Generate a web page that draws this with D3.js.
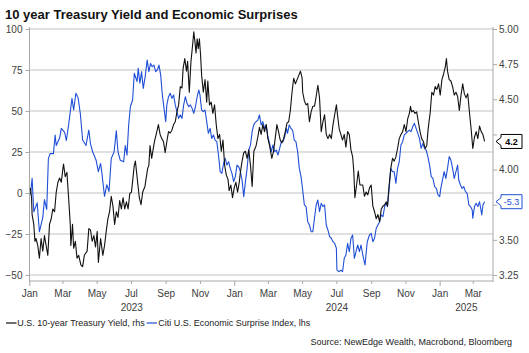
<!DOCTYPE html>
<html><head><meta charset="utf-8">
<script src="https://cdn.jsdelivr.net/npm/d3@7"></script>
<style>body{margin:0;background:#fff}svg{display:block;font-family:"Liberation Sans",Arial,sans-serif}</style>
</head><body><svg id="c" width="529" height="353"></svg>
<script>
// U.S. 10-year Treasury Yield (rhs)
const yieldData = [
["2023-01-03",3.87],["2023-01-05",3.80],["2023-01-06",3.68],["2023-01-09",3.61],["2023-01-11",3.49],["2023-01-13",3.51],["2023-01-16",3.46],["2023-01-19",3.37],["2023-01-22",3.51],["2023-01-25",3.42],["2023-01-28",3.53],["2023-01-31",3.46],
["2023-02-03",3.39],["2023-02-06",3.61],["2023-02-09",3.65],["2023-02-12",3.72],["2023-02-15",3.70],["2023-02-18",3.84],["2023-02-21",3.91],["2023-02-24",3.94],["2023-02-27",3.91],
["2023-03-02",4.01],["2023-03-03",4.04],["2023-03-06",3.95],["2023-03-09",3.98],["2023-03-12",3.80],["2023-03-15",3.61],["2023-03-16",3.46],["2023-03-19",3.61],["2023-03-21",3.44],["2023-03-24",3.49],["2023-03-27",3.37],["2023-03-30",3.39],
["2023-04-03",3.32],["2023-04-06",3.31],["2023-04-09",3.39],["2023-04-14",3.42],["2023-04-17",3.58],["2023-04-20",3.57],["2023-04-23",3.49],["2023-04-26",3.53],["2023-04-29",3.45],
["2023-05-02",3.56],["2023-05-04",3.34],["2023-05-08",3.51],["2023-05-12",3.39],["2023-05-15",3.46],["2023-05-18",3.56],["2023-05-21",3.65],["2023-05-24",3.70],["2023-05-27",3.81],["2023-05-30",3.74],
["2023-06-02",3.61],["2023-06-05",3.70],["2023-06-08",3.66],["2023-06-11",3.78],["2023-06-14",3.72],["2023-06-17",3.80],["2023-06-20",3.72],["2023-06-23",3.77],["2023-06-26",3.72],["2023-06-29",3.83],
["2023-07-02",3.84],["2023-07-07",4.03],["2023-07-09",4.06],["2023-07-13",3.91],["2023-07-16",3.80],["2023-07-19",3.75],["2023-07-22",3.84],["2023-07-26",3.88],["2023-07-29",3.96],["2023-07-31",4.01],
["2023-08-02",4.03],["2023-08-04",4.17],["2023-08-07",4.08],["2023-08-09",4.13],["2023-08-12",4.20],["2023-08-15",4.25],["2023-08-19",4.32],["2023-08-22",4.25],["2023-08-25",4.22],["2023-08-28",4.20],["2023-08-31",4.12],
["2023-09-03",4.20],["2023-09-06",4.27],["2023-09-09",4.26],["2023-09-12",4.28],["2023-09-15",4.32],["2023-09-18",4.34],["2023-09-21",4.41],["2023-09-24",4.46],["2023-09-27",4.59],["2023-09-30",4.58],
["2023-10-02",4.72],["2023-10-05",4.79],["2023-10-08",4.70],["2023-10-10",4.77],["2023-10-13",4.55],["2023-10-16",4.77],["2023-10-19",4.89],["2023-10-21",4.98],["2023-10-23",4.91],["2023-10-25",4.83],["2023-10-27",4.93],["2023-10-29",4.86],["2023-10-31",4.93],
["2023-11-02",4.82],["2023-11-04",4.67],["2023-11-07",4.55],["2023-11-10",4.64],["2023-11-13",4.48],["2023-11-15",4.63],["2023-11-18",4.46],["2023-11-21",4.48],["2023-11-24",4.40],["2023-11-27",4.46],["2023-11-30",4.32],
["2023-12-03",4.22],["2023-12-06",4.25],["2023-12-09",4.13],["2023-12-12",4.21],["2023-12-15",4.03],["2023-12-18",3.96],["2023-12-21",3.93],["2023-12-23",3.85],["2023-12-26",3.89],["2023-12-29",3.80],
["2024-01-01",3.87],["2024-01-04",3.91],["2024-01-07",3.84],["2024-01-10",3.91],["2024-01-12",3.98],["2024-01-15",4.06],["2024-01-18",4.12],["2024-01-21",4.13],["2024-01-24",4.08],["2024-01-27",4.14],["2024-01-30",4.03],
["2024-02-02",3.88],["2024-02-05",4.13],["2024-02-09",4.17],["2024-02-12",4.23],["2024-02-15",4.30],["2024-02-18",4.25],["2024-02-21",4.32],["2024-02-24",4.27],["2024-02-27",4.32],
["2024-03-01",4.22],["2024-03-04",4.17],["2024-03-08",4.08],["2024-03-11",4.13],["2024-03-14",4.22],["2024-03-17",4.32],["2024-03-20",4.27],["2024-03-23",4.21],["2024-03-26",4.19],["2024-03-29",4.22],
["2024-04-01",4.27],["2024-04-04",4.33],["2024-04-07",4.34],["2024-04-10",4.42],["2024-04-13",4.55],["2024-04-16",4.65],["2024-04-19",4.61],["2024-04-22",4.64],["2024-04-25",4.67],["2024-04-28",4.70],
["2024-05-01",4.65],["2024-05-02",4.55],["2024-05-05",4.49],["2024-05-08",4.46],["2024-05-11",4.47],["2024-05-14",4.34],["2024-05-17",4.41],["2024-05-20",4.45],["2024-05-23",4.45],["2024-05-26",4.52],["2024-05-29",4.60],
["2024-06-01",4.51],["2024-06-04",4.27],["2024-06-07",4.34],["2024-06-10",4.39],["2024-06-13",4.25],["2024-06-16",4.22],["2024-06-19",4.25],["2024-06-22",4.22],["2024-06-25",4.32],["2024-06-28",4.39],
["2024-07-01",4.46],["2024-07-03",4.39],["2024-07-06",4.29],["2024-07-09",4.25],["2024-07-12",4.21],["2024-07-15",4.25],["2024-07-18",4.16],["2024-07-21",4.27],["2024-07-24",4.25],["2024-07-27",4.14],["2024-07-30",4.09],
["2024-08-01",3.99],["2024-08-03",3.80],["2024-08-06",3.89],["2024-08-09",3.99],["2024-08-12",3.89],["2024-08-17",3.89],["2024-08-20",3.81],["2024-08-23",3.84],["2024-08-26",3.82],["2024-08-29",3.87],
["2024-09-01",3.89],["2024-09-04",3.74],["2024-09-07",3.70],["2024-09-10",3.65],["2024-09-13",3.68],["2024-09-16",3.63],["2024-09-19",3.72],["2024-09-22",3.74],["2024-09-25",3.75],["2024-09-28",3.77],["2024-09-30",3.74],
["2024-10-03",3.89],["2024-10-06",4.01],["2024-10-09",4.08],["2024-10-12",4.06],["2024-10-15",4.09],["2024-10-18",4.15],["2024-10-21",4.22],["2024-10-24",4.25],["2024-10-27",4.27],["2024-10-30",4.32],
["2024-11-02",4.27],["2024-11-05",4.36],["2024-11-08",4.40],["2024-11-10",4.45],["2024-11-12",4.41],["2024-11-15",4.42],["2024-11-18",4.40],["2024-11-21",4.41],["2024-11-24",4.34],["2024-11-27",4.27],["2024-11-30",4.22],
["2024-12-03",4.20],["2024-12-06",4.15],["2024-12-09",4.17],["2024-12-11",4.27],["2024-12-13",4.34],["2024-12-15",4.40],["2024-12-18",4.55],["2024-12-21",4.53],["2024-12-24",4.59],["2024-12-27",4.57],["2024-12-30",4.61],
["2025-01-02",4.53],["2025-01-05",4.64],["2025-01-08",4.68],["2025-01-11",4.73],["2025-01-13",4.79],["2025-01-15",4.70],["2025-01-18",4.64],["2025-01-21",4.63],["2025-01-24",4.59],["2025-01-27",4.53],["2025-01-30",4.55],
["2025-02-02",4.52],["2025-02-05",4.42],["2025-02-08",4.53],["2025-02-11",4.61],["2025-02-14",4.54],["2025-02-17",4.51],["2025-02-20",4.54],["2025-02-23",4.41],["2025-02-26",4.29],
["2025-03-01",4.15],["2025-03-04",4.23],["2025-03-07",4.27],["2025-03-10",4.22],["2025-03-13",4.31],["2025-03-16",4.27],["2025-03-19",4.25],["2025-03-22",4.20]
];
// Citi U.S. Economic Surprise Index (lhs)
const cesiData = [
["2023-01-03",-1],["2023-01-06",9],["2023-01-09",-11.4],["2023-01-15",-6],["2023-01-19",-23.6],["2023-01-25",-15],["2023-01-28",-4],["2023-02-01",-10],["2023-02-04",21],["2023-02-07",24],["2023-02-13",24],["2023-02-16",35.4],["2023-02-18",29],["2023-02-24",33.5],["2023-02-27",39.4],
["2023-03-05",37],["2023-03-08",32],["2023-03-12",41.5],["2023-03-15",49.6],["2023-03-18",57.7],["2023-03-21",50.6],["2023-03-25",60.8],["2023-03-29",58],["2023-04-02",48],["2023-04-06",32.3],["2023-04-12",29],["2023-04-17",38.4],["2023-04-20",30],["2023-04-24",25],["2023-04-30",20],
["2023-05-04",13],["2023-05-08",18],["2023-05-10",13],["2023-05-15",-2],["2023-05-19",5],["2023-05-23",1],["2023-05-27",21],["2023-06-01",25],["2023-06-05",38],["2023-06-08",25],["2023-06-12",20],["2023-06-18",19],["2023-06-21",29],["2023-06-24",23],["2023-06-27",41.5],["2023-06-30",52.6],
["2023-07-04",56.7],["2023-07-07",73],["2023-07-12",68],["2023-07-14",76],["2023-07-17",66.9],["2023-07-20",74],["2023-07-23",63.8],["2023-07-26",70],["2023-07-30",81],["2023-08-02",74],["2023-08-05",79],["2023-08-08",77],["2023-08-11",78],["2023-08-14",74],["2023-08-17",75],["2023-08-20",78],["2023-08-23",72],["2023-08-26",59.8],["2023-08-29",51.6],
["2023-09-01",43.5],["2023-09-03",53.7],["2023-09-06",58.7],["2023-09-09",60.8],["2023-09-12",57.7],["2023-09-15",59.8],["2023-09-18",53.7],["2023-09-21",49.6],["2023-09-24",45.5],["2023-09-27",47.6],["2023-09-30",45.5],
["2023-10-03",53.7],["2023-10-06",58.7],["2023-10-09",54.7],["2023-10-12",52.6],["2023-10-15",53.7],["2023-10-18",51.6],["2023-10-21",48.6],["2023-10-24",52.6],["2023-10-27",58.7],["2023-10-30",62.8],
["2023-11-01",59.8],["2023-11-04",50.6],["2023-11-07",49.6],["2023-11-10",50.6],["2023-11-13",43.5],["2023-11-16",36.4],["2023-11-19",39.4],["2023-11-22",33.3],["2023-11-25",35.4],["2023-11-28",32.3],
["2023-12-01",31.3],["2023-12-04",23.2],["2023-12-07",13],["2023-12-10",12],["2023-12-13",18],["2023-12-16",21.1],["2023-12-19",17],["2023-12-22",19.1],["2023-12-25",15],["2023-12-28",12],["2023-12-31",6.9],
["2024-01-03",10],["2024-01-06",17],["2024-01-09",16],["2024-01-12",13],["2024-01-15",7.9],["2024-01-18",-2.2],["2024-01-21",6.9],["2024-01-24",15],["2024-01-27",26.2],["2024-01-30",29.3],
["2024-02-02",37.4],["2024-02-04",40.4],["2024-02-06",42.5],["2024-02-09",43.5],["2024-02-12",44.5],["2024-02-15",47.6],["2024-02-18",41.5],["2024-02-21",43.5],["2024-02-24",39.4],["2024-02-27",41.5],
["2024-03-01",34.3],["2024-03-04",30.3],["2024-03-07",25.2],["2024-03-10",29.3],["2024-03-13",25.2],["2024-03-16",26.2],["2024-03-19",23.2],["2024-03-22",27.2],["2024-03-25",31.3],["2024-03-28",31.3],["2024-03-31",34.3],
["2024-04-03",39.4],["2024-04-05",36.4],["2024-04-08",41.5],["2024-04-11",39.4],["2024-04-14",38.4],["2024-04-17",32.3],["2024-04-20",31.3],["2024-04-23",25.2],["2024-04-26",15],["2024-04-29",10],
["2024-05-02",1.8],["2024-05-05",-7.3],["2024-05-08",-8.3],["2024-05-11",-17.5],["2024-05-14",-19.5],["2024-05-17",-23.6],["2024-05-20",-23.6],["2024-05-23",-15.4],["2024-05-26",-7.3],["2024-05-29",-4.3],
["2024-06-01",-11.4],["2024-06-04",-6.3],["2024-06-07",-8.3],["2024-06-10",-7.3],["2024-06-13",-19.5],["2024-06-16",-22.6],["2024-06-19",-26.6],["2024-06-22",-27.6],["2024-06-25",-29.7],["2024-06-28",-30.7],
["2024-07-01",-33.7],["2024-07-02",-47],["2024-07-06",-48],["2024-07-09",-47],["2024-07-12",-48],["2024-07-15",-39.8],["2024-07-18",-37.8],["2024-07-21",-30.7],["2024-07-24",-35.8],["2024-07-27",-27.6],["2024-07-30",-25.6],
["2024-08-02",-39.8],["2024-08-05",-35.8],["2024-08-08",-31.7],["2024-08-11",-35.8],["2024-08-14",-31.7],["2024-08-17",-37.8],["2024-08-21",-43.9],["2024-08-25",-29.7],["2024-08-29",-25.6],
["2024-09-01",-24.6],["2024-09-04",-29.7],["2024-09-07",-27.6],["2024-09-10",-21.5],["2024-09-13",-19.5],["2024-09-16",-17.5],["2024-09-19",-13.4],["2024-09-22",-14.4],["2024-09-25",-8.3],["2024-09-28",-6.3],["2024-09-30",-8.3],
["2024-10-03",2.8],["2024-10-06",15],["2024-10-09",13],["2024-10-12",13],["2024-10-15",5.9],["2024-10-18",15],["2024-10-21",19.1],["2024-10-24",29.3],["2024-10-27",31.3],["2024-10-30",35.4],
["2024-11-02",36.4],["2024-11-05",37.4],["2024-11-08",38.4],["2024-11-11",37.4],["2024-11-14",40.4],["2024-11-17",42.5],["2024-11-20",39.4],["2024-11-23",36.4],["2024-11-26",33.3],["2024-11-29",27.2],
["2024-12-02",30.3],["2024-12-05",27.2],["2024-12-08",26.2],["2024-12-11",22.2],["2024-12-14",17],["2024-12-17",10],["2024-12-20",8.9],["2024-12-23",3.9],["2024-12-26",2.8],["2024-12-29",-1.2],
["2025-01-01",-2.2],["2025-01-03",2.8],["2025-01-06",7.9],["2025-01-09",13],["2025-01-12",8.9],["2025-01-15",15],["2025-01-18",22.2],["2025-01-21",20.1],["2025-01-24",15],["2025-01-27",8.9],["2025-01-30",13],
["2025-02-02",17],["2025-02-04",7.9],["2025-02-07",4.9],["2025-02-10",2.8],["2025-02-13",3.9],["2025-02-16",0.8],["2025-02-19",-0.2],["2025-02-22",-7.3],["2025-02-25",-8.3],["2025-02-28",-10.4],
["2025-03-01",-15.4],["2025-03-04",-8.3],["2025-03-07",-6.3],["2025-03-10",-8.3],["2025-03-13",-5.3],["2025-03-17",-13.4],["2025-03-19",-7.3],["2025-03-22",-5.3]
];
const leftTicks = [100, 75, 50, 25, 0, -25, -50];
const rightTicks = [5.00, 4.75, 4.50, 4.25, 4.00, 3.75, 3.50, 3.25];
const rightHiddenLabels = [4.25, 3.75]; // covered by the end-value callouts in the reference
const yearLabels = ["2023", "2024", "2025"];
const lastYieldLabel = "4.2";
const lastCesiLabel = "-5.3";
const titleText = "10 year Treasury Yield and Economic Surprises";
const legendItems = ["U.S. 10-year Treasury Yield, rhs", "Citi U.S. Economic Surprise Index, lhs"];
const sourceText = "Source: NewEdge Wealth, Macrobond, Bloomberg";

const BLACK = "#111111", BLUE = "#1f4fd6", GRID = "#d6d6d6", AXIS = "#a8a8a8", LABEL = "#404040";
const parse = d3.utcParse("%Y-%m-%d");
const svg = d3.select("#c");
svg.append("rect").attr("width",529).attr("height",353).attr("fill","#fff");

const xStart = new Date(Date.UTC(2023,0,1)), xEnd = new Date(Date.UTC(2025,3,6));
const x = d3.scaleUtc().domain([xStart, xEnd]).range([29.3, 493]);
const yL = d3.scaleLinear().domain([-50, 100]).range([275, 29]);
const yR = d3.scaleLinear().domain([3.25, 5]).range([275, 29]);

// title
svg.append("text").attr("x",5).attr("y",19).attr("font-size",13).attr("font-weight","bold")
  .attr("fill","#111").text(titleText);

// gridlines
svg.append("g").selectAll("line").data(leftTicks).join("line")
  .attr("x1",29.3).attr("x2",493).attr("y1",d=>yL(d)).attr("y2",d=>yL(d))
  .attr("stroke",GRID).attr("stroke-width",1.5);

// left axis
const gL = svg.append("g").attr("transform","translate(29.5,0)")
  .call(d3.axisLeft(yL).tickValues(leftTicks).tickSize(4).tickPadding(3).tickFormat(d3.format("d")));
gL.select(".domain").remove();
gL.selectAll(".tick line").attr("stroke",AXIS);
gL.selectAll(".tick text").attr("font-size",10).attr("fill",LABEL).attr("font-family",null);
gL.append("line").attr("y1",27).attr("y2",282).attr("stroke",AXIS);

// right axis
const fmtR = d3.format(".2f");
const gR = svg.append("g").attr("transform","translate(493,0)")
  .call(d3.axisRight(yR).tickValues(rightTicks).tickSize(4).tickPadding(2)
    .tickFormat(d => rightHiddenLabels.includes(d) ? "" : fmtR(d)));
gR.select(".domain").remove();
gR.selectAll(".tick line").attr("stroke",AXIS);
gR.selectAll(".tick text").attr("font-size",10).attr("fill",LABEL).attr("font-family",null);
gR.append("line").attr("y1",27).attr("y2",282).attr("stroke",AXIS);

// bottom axis
const gX = svg.append("g").attr("transform","translate(0,281)")
  .call(d3.axisBottom(x).ticks(d3.utcMonth.every(2)).tickSize(3).tickPadding(6).tickFormat(d3.utcFormat("%b")));
gX.select(".domain").remove();
gX.append("line").attr("x1",29.3).attr("x2",493).attr("stroke",AXIS);
gX.selectAll(".tick line").attr("stroke",AXIS).attr("y2",d=>d.getUTCMonth()===0?5:3);
gX.selectAll(".tick text").attr("font-size",10).attr("fill",LABEL).attr("font-family",null);

// year labels centered in visible year span
yearLabels.forEach(yr => {
  const a = d3.max([xStart, new Date(Date.UTC(+yr,0,1))]);
  const b = d3.min([xEnd, new Date(Date.UTC(+yr+1,0,1))]);
  svg.append("text").attr("x",(x(a)+x(b))/2).attr("y",311).attr("text-anchor","middle")
    .attr("font-size",10).attr("fill",LABEL).text(yr);
});

// lines
const lineL = d3.line().x(d=>x(parse(d[0]))).y(d=>yL(d[1]));
const lineR = d3.line().x(d=>x(parse(d[0]))).y(d=>yR(d[1]));
svg.append("path").datum(cesiData).attr("d",lineL).attr("fill","none").attr("stroke",BLUE).attr("stroke-width",1.1).attr("stroke-linejoin","round");
svg.append("path").datum(yieldData).attr("d",lineR).attr("fill","none").attr("stroke",BLACK).attr("stroke-width",1.1).attr("stroke-linejoin","round");

// end callouts
function callout(yv, label, color, bold){
  const tip = 496, l = 501, r = 522, h = 7;
  svg.append("path").attr("d",`M${tip},${yv}L${l},${yv-4}L${l},${yv-h}L${r},${yv-h}L${r},${yv+h}L${l},${yv+h}L${l},${yv+4}Z`)
    .attr("fill","#fff").attr("stroke",color).attr("stroke-width",1);
  svg.append("text").attr("x",(l+r)/2).attr("y",yv+3.2).attr("text-anchor","middle")
    .attr("font-size",9).attr("font-weight",bold?"bold":"normal").attr("fill",color).text(label);
}
callout(yR(yieldData[yieldData.length-1][1]), lastYieldLabel, "#000", true);
callout(yL(cesiData[cesiData.length-1][1]), lastCesiLabel, BLUE, false);

// legend
const lg = svg.append("g");
lg.append("line").attr("x1",6).attr("x2",16.5).attr("y1",323).attr("y2",323).attr("stroke",BLACK).attr("stroke-width",1.2);
lg.append("text").attr("x",17.3).attr("y",326.3).attr("font-size",9).attr("fill","#222").text(legendItems[0]);
lg.append("line").attr("x1",146.7).attr("x2",157).attr("y1",323).attr("y2",323).attr("stroke",BLUE).attr("stroke-width",1.2);
lg.append("text").attr("x",158.3).attr("y",326.3).attr("font-size",9).attr("fill","#222").text(legendItems[1]);

// source
svg.append("text").attr("x",512).attr("y",345).attr("text-anchor","end").attr("font-size",9).attr("fill","#222").text(sourceText);
</script></body></html>
